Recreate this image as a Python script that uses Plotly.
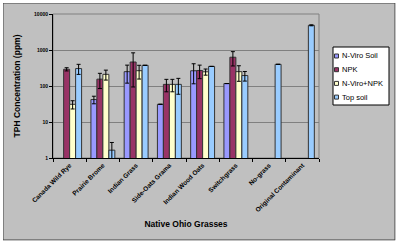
import plotly.graph_objects as go

# data
grasses = ["Canada Wild Rye", "Prairie Brome", "Indian Grass", "Side-Oats Grama",
           "Indian Wood Oats", "Switchgrass", "No-grass", "Original Contaminant"]

nviro_soil = [None, 42, 250, 31, 265, 117, None, None]
nviro_soil_err = [0, 10, 130, 0, 150, 0, 0, 0]

npk = [292, 155, 464, 111, 270, 630, None, None]
npk_err = [30, 70, 370, 42, 110, 270, 0, 0]

nviro_npk = [31, 211, 266, 111, 248, 250, None, None]
nviro_npk_err = [8, 65, 110, 42, 48, 115, 0, 0]

top_soil = [305, 1.65, 375, 111, 350, 195, 400, 4850]
top_soil_err = [95, 1.05, 0, 52, 0, 58, 0, 150]

series = [
    ("N-Viro Soil", nviro_soil, nviro_soil_err, "#9999FF"),
    ("NPK", npk, npk_err, "#993366"),
    ("N-Viro+NPK", nviro_npk, nviro_npk_err, "#FFFFCC"),
    ("Top soil", top_soil, top_soil_err, "#99CCFF"),
]

W, H = 400, 245
L, R, T, B = 53, 81, 14, 87
pw, ph = W - L - R, H - T - B
FONT = "Arial, Liberation Sans, sans-serif"


def px(x):
    # pixel x -> paper x
    return (x - L) / pw


def py(y):
    # pixel y (from top) -> paper y
    return (H - B - y) / ph


fig = go.Figure()

for name, vals, errs, color in series:
    fig.add_trace(go.Bar(
        x=grasses,
        y=vals,
        name=name,
        marker=dict(color=color, line=dict(color="#333333", width=1)),
        error_y=dict(type="data", array=errs, visible=True,
                     color="black", thickness=1, width=2),
    ))

shapes = [
    # plot area border
    dict(type="rect", xref="paper", yref="paper", layer="below",
         x0=0, x1=1, y0=0, y1=1, line=dict(color="#808080", width=1)),
    # chart area border
    dict(type="rect", xref="paper", yref="paper",
         x0=px(3), x1=px(395), y0=py(240), y1=py(3),
         line=dict(color="#404040", width=1)),
]
# white margin around the chart area
for x0, x1, y0, y1 in [(0, 3, 0, H), (395.5, W, 0, H), (0, W, 0, 3), (0, W, 240.5, H)]:
    shapes.append(dict(type="rect", xref="paper", yref="paper",
                       x0=px(x0), x1=px(x1), y0=py(y1), y1=py(y0),
                       fillcolor="white", line=dict(width=0)))

# legend box drawn by hand (plotly's legend rows are too tall at this size)
shapes.append(dict(type="rect", xref="paper", yref="paper",
                   x0=px(333), x1=px(389), y0=py(105), y1=py(47),
                   fillcolor="white", line=dict(color="black", width=1)))
annotations = []
for i, (name, _, _, color) in enumerate(series):
    yc = 56 + i * 13.7
    shapes.append(dict(type="rect", xref="paper", yref="paper",
                       x0=px(334.5), x1=px(338.5), y0=py(yc + 2), y1=py(yc - 2),
                       fillcolor=color, line=dict(color="#333333", width=1)))
    annotations.append(dict(xref="paper", yref="paper", x=px(340), y=py(yc),
                            xanchor="left", yanchor="middle", showarrow=False,
                            text=name, font=dict(size=7.5, family=FONT)))

fig.update_layout(
    width=W, height=H,
    margin=dict(l=L, r=R, t=T, b=B, autoexpand=False),
    paper_bgcolor="#C0C0C0",
    plot_bgcolor="#C0C0C0",
    barmode="group",
    bargap=0.28,
    bargroupgap=0,
    font=dict(family=FONT, color="black"),
    showlegend=False,
    shapes=shapes,
    annotations=annotations,
)

fig.update_xaxes(
    showline=True, linecolor="black", linewidth=1,
    ticks="outside", ticklen=3, tickcolor="black", tickson="boundaries",
    tickangle=-45,
    tickfont=dict(size=6.5, weight="bold"),
    title=dict(text="Native Ohio Grasses", font=dict(size=8.5, weight="bold"),
               standoff=8),
    showgrid=False,
    automargin=False,
)

fig.update_yaxes(
    type="log", range=[0, 4],
    tickvals=[1, 10, 100, 1000, 10000],
    ticktext=["1", "10", "100", "1000", "10000"],
    showline=True, linecolor="black", linewidth=1,
    ticks="outside", ticklen=3, tickcolor="black",
    tickfont=dict(size=5, weight="bold"),
    showgrid=True, gridcolor="#808080", gridwidth=1,
    title=dict(text="TPH Concentration (ppm)", font=dict(size=8.5, weight="bold"),
               standoff=12),
    zeroline=False,
    automargin=False,
)

# drop the page's default body margin so the chart sits at the window's corner
fig.write_html("out.html", config={"displayModeBar": False},
               post_script="document.body.style.margin = '0';")
